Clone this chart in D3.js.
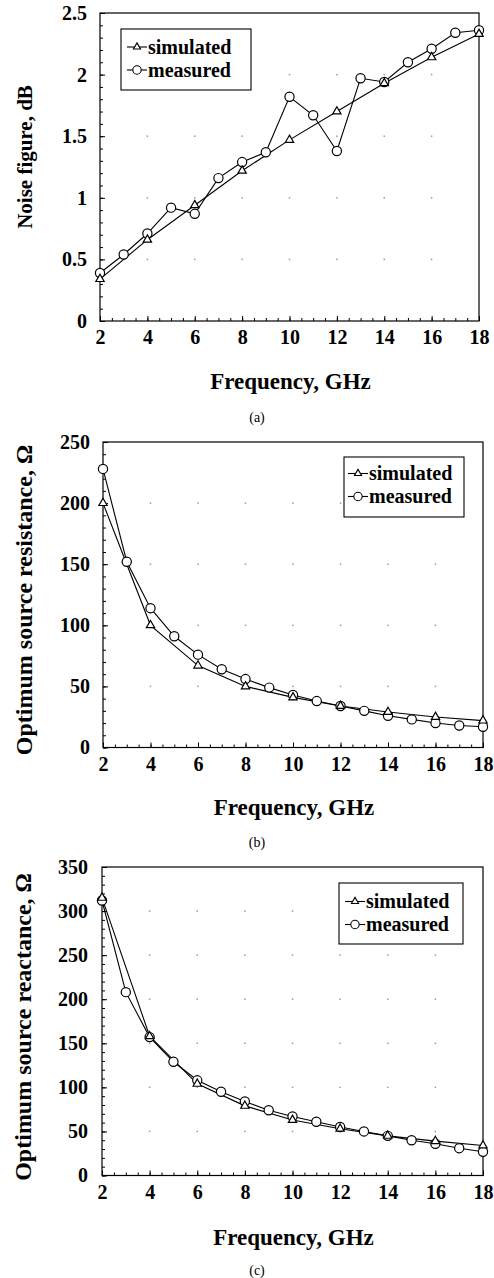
<!DOCTYPE html>
<html><head><meta charset="utf-8">
<script src="https://cdn.jsdelivr.net/npm/d3@7"></script>
<style>
body{margin:0;background:#fff}
svg{display:block}
svg text{font-family:"Liberation Serif","Times New Roman",serif !important;fill:#000}
</style>
</head><body>
<svg id="chart" width="494" height="1278"></svg>
<script>
// ---------- data ----------
const freqMeasured = [2,3,4,5,6,7,8,9,10,11,12,13,14,15,16,17,18];
const freqSimulated = [2,4,6,8,10,12,14,16,18];
const xTickValues = [2,4,6,8,10,12,14,16,18];

const nfMeasured = [0.39,0.54,0.71,0.92,0.87,1.16,1.29,1.37,1.82,1.67,1.38,1.97,1.94,2.10,2.21,2.34,2.36];
const nfSimulated = [0.34,0.66,0.94,1.22,1.47,1.70,1.93,2.14,2.33];
const nfTicks = [0,0.5,1,1.5,2,2.5];
const nfTickLabels = ["0","0.5","1","1.5","2","2.5"];

const resMeasured = [228,152,114,91,76,64,56,49,43,38,34,30,26,23,20,18,17];
const resSimulated = [200,100,67,50,41,34,29,25,22];
const resTicks = [0,50,100,150,200,250];

const reaMeasured = [312,208,157,129,108,95,84,74,67,61,55,50,45,40,36,31,27];
const reaSimulated = [315,158,104,79,63,53,45,39,34];
const reaTicks = [0,50,100,150,200,250,300,350];

const seriesNames = ["simulated","measured"];
const xTitle = "Frequency, GHz";

// ---------- drawing ----------
const svg = d3.select("#chart");
const FONT = '"Liberation Serif","Times New Roman",serif';

function panel(cfg){
  const g = svg.append("g");
  const x = d3.scaleLinear().domain([2,18]).range([cfg.left, cfg.right]);
  const y = d3.scaleLinear().domain([0, cfg.ymax]).range([cfg.bottom, cfg.top]);

  // grid dots at major intersections
  const gx = xTickValues.filter(v => v > 2 && v < 18);
  const gy = cfg.yTicks.filter(v => v > 0 && v < cfg.ymax);
  gx.forEach(a => gy.forEach(b => {
    g.append("rect").attr("x", x(a)-0.75).attr("y", y(b)-0.75)
      .attr("width",1.5).attr("height",1.5).attr("fill","#9a9a9a");
  }));

  // minor ticks
  const yMinor = d3.range(0, cfg.ymax + cfg.yMinorStep/2, cfg.yMinorStep);
  const xMinor = d3.range(2, 18.01, 0.5);
  const axY2 = g.append("g").attr("transform",`translate(${cfg.left},0)`)
    .call(d3.axisLeft(y).tickValues(yMinor).tickSize(-3).tickFormat(""));
  axY2.select(".domain").remove();
  const axX2 = g.append("g").attr("transform",`translate(0,${cfg.bottom})`)
    .call(d3.axisBottom(x).tickValues(xMinor).tickSize(-3).tickFormat(""));
  axX2.select(".domain").remove();

  // major axes
  const axY = g.append("g").attr("transform",`translate(${cfg.left},0)`)
    .call(d3.axisLeft(y).tickValues(cfg.yTicks).tickSize(-5).tickPadding(cfg.yPad)
      .tickFormat((d,i) => cfg.yLabels ? cfg.yLabels[i] : d3.format("d")(d)));
  axY.attr("font-family", FONT);
  axY.select(".domain").remove();
  axY.selectAll("text").style("font-family", FONT).style("font-size", cfg.tickFs + "px").style("font-weight","bold");
  const axX = g.append("g").attr("transform",`translate(0,${cfg.bottom})`)
    .call(d3.axisBottom(x).tickValues(xTickValues).tickSize(-5).tickPadding(cfg.xPad).tickFormat(d3.format("d")));
  axX.attr("font-family", FONT);
  axX.select(".domain").remove();
  axX.selectAll("text").style("font-family", FONT).style("font-size", cfg.tickFs + "px").style("font-weight","bold");
  g.selectAll(".tick line").attr("stroke","#000").attr("stroke-width",1);

  // frame
  g.append("rect").attr("x",cfg.left).attr("y",cfg.top)
    .attr("width",cfg.right-cfg.left).attr("height",cfg.bottom-cfg.top)
    .attr("fill","none").attr("stroke","#000").attr("stroke-width",1.2);

  // lines
  const line = d3.line().x(d => x(d[0])).y(d => y(d[1]));
  const sim = freqSimulated.map((f,i) => [f, cfg.sim[i]]);
  const meas = freqMeasured.map((f,i) => [f, cfg.meas[i]]);
  g.append("path").datum(sim).attr("d", line).attr("fill","none").attr("stroke","#000").attr("stroke-width",1.1);
  g.append("path").datum(meas).attr("d", line).attr("fill","none").attr("stroke","#000").attr("stroke-width",1.1);

  // markers
  g.selectAll(".mc").data(meas).join("circle").attr("class","mc")
    .attr("cx", d => x(d[0])).attr("cy", d => y(d[1])).attr("r",4.6)
    .attr("fill","#fff").attr("stroke","#000").attr("stroke-width",1.2);
  const tri = d3.symbol(d3.symbolTriangle, 30);
  g.selectAll(".ms").data(sim).join("path").attr("class","ms")
    .attr("transform", d => `translate(${x(d[0])},${y(d[1])})`).attr("d", tri)
    .attr("fill","#fff").attr("stroke","#000").attr("stroke-width",1.2);

  // legend
  const L = cfg.legend;
  const lg = g.append("g");
  lg.append("rect").attr("x",L.x).attr("y",L.y).attr("width",L.w).attr("height",L.h)
    .attr("fill","#fff").attr("stroke","#000").attr("stroke-width",1.1);
  seriesNames.forEach((name,i) => {
    const cy = L.y + L.row0 + i*L.rowGap;
    const mx = L.x + L.mx;
    lg.append("line").attr("x1", mx-10).attr("x2", mx+10).attr("y1",cy).attr("y2",cy)
      .attr("stroke","#000").attr("stroke-width",1.1);
    if(i===0){
      lg.append("path").attr("transform",`translate(${mx},${cy})`).attr("d", d3.symbol(d3.symbolTriangle,22))
        .attr("fill","#fff").attr("stroke","#000").attr("stroke-width",1.1);
    } else {
      lg.append("circle").attr("cx",mx).attr("cy",cy).attr("r",4.2)
        .attr("fill","#fff").attr("stroke","#000").attr("stroke-width",1.1);
    }
    lg.append("text").attr("x", mx+11).attr("y", cy).attr("dy","0.33em")
      .style("font-family", FONT).style("font-size", L.fs + "px").style("font-weight","bold").text(name);
  });

  // axis titles
  g.append("text").attr("x",(cfg.left+cfg.right)/2 + 1).attr("y",cfg.xTitleY)
    .attr("text-anchor","middle").style("font-family", FONT).style("font-size",cfg.xTitleFs+"px")
    .style("font-weight","bold").text(xTitle);
  g.append("text").attr("transform",`translate(${cfg.yTitleX},${cfg.yTitleY}) rotate(-90)`)
    .attr("dy","0.35em").attr("text-anchor","middle").style("font-family", FONT).style("font-size",cfg.yTitleFs+"px")
    .style("font-weight","bold").text(cfg.yTitle);
  g.append("text").attr("x",257).attr("y",cfg.capY).attr("text-anchor","middle")
    .style("font-family", FONT).style("font-size","14px").text(cfg.caption);
}

panel({left:100,right:479,top:13,bottom:321,ymax:2.5,yTicks:nfTicks,yLabels:nfTickLabels,yMinorStep:0.1,
  meas:nfMeasured,sim:nfSimulated,tickFs:20,yPad:13,xPad:9,
  legend:{x:121,y:29,w:130,h:61,mx:16,row0:18,rowGap:23,fs:20},
  xTitleY:389,xTitleFs:23,yTitle:"Noise figure, dB",yTitleX:25,yTitleY:157,yTitleFs:21,
  caption:"(a)",capY:422});

panel({left:103,right:483,top:442,bottom:747.5,ymax:250,yTicks:resTicks,yMinorStep:10,
  meas:resMeasured,sim:resSimulated,tickFs:20,yPad:13,xPad:9,
  legend:{x:344,y:457,w:120,h:60,mx:14,row0:16.5,rowGap:23,fs:20},
  xTitleY:815,xTitleFs:23,yTitle:"Optimum source resistance, Ω",yTitleX:24,yTitleY:600,yTitleFs:24,
  caption:"(b)",capY:847});

panel({left:102,right:483,top:867,bottom:1175.5,ymax:350,yTicks:reaTicks,yMinorStep:10,
  meas:reaMeasured,sim:reaSimulated,tickFs:20,yPad:14,xPad:9,
  legend:{x:339,y:883,w:124,h:61,mx:16,row0:18.5,rowGap:23,fs:20},
  xTitleY:1245,xTitleFs:23,yTitle:"Optimum source reactance, Ω",yTitleX:23,yTitleY:1027,yTitleFs:24,
  caption:"(c)",capY:1275});
</script>
</body></html>
